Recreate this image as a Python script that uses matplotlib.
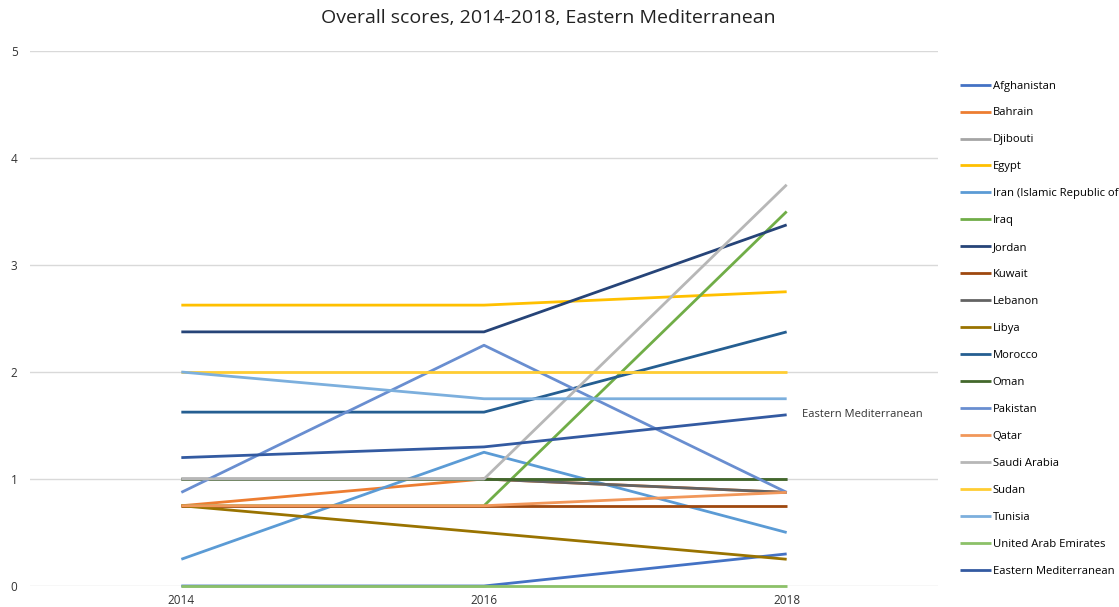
import matplotlib
matplotlib.use("Agg")
import matplotlib.pyplot as plt

plt.rcParams['font.family'] = ['Open Sans', 'DejaVu Sans']

years = ["2014", "2016", "2018"]
countries = ["Afghanistan", "Bahrain", "Djibouti", "Egypt", "Iran (Islamic Republic of",
             "Iraq", "Jordan", "Kuwait", "Lebanon", "Libya", "Morocco", "Oman",
             "Pakistan", "Qatar", "Saudi Arabia", "Sudan", "Tunisia",
             "United Arab Emirates", "Eastern Mediterranean"]
afghanistan = [0.0, 0.0, 0.3]
bahrain = [0.75, 1.0, 0.875]
djibouti = [1.0, 1.0, 1.0]
egypt = [2.625, 2.625, 2.75]
iran = [0.25, 1.25, 0.5]
iraq = [0.75, 0.75, 3.5]
jordan = [2.375, 2.375, 3.375]
kuwait = [0.75, 0.75, 0.75]
lebanon = [1.0, 1.0, 0.875]
libya = [0.75, 0.5, 0.25]
morocco = [1.625, 1.625, 2.375]
oman = [1.0, 1.0, 1.0]
pakistan = [0.875, 2.25, 0.875]
qatar = [0.75, 0.75, 0.875]
saudi = [1.0, 1.0, 3.75]
sudan = [2.0, 2.0, 2.0]
tunisia = [2.0, 1.75, 1.75]
uae = [0.0, 0.0, 0.0]
east_med = [1.2, 1.3, 1.6]
series = [afghanistan, bahrain, djibouti, egypt, iran, iraq, jordan, kuwait, lebanon,
          libya, morocco, oman, pakistan, qatar, saudi, sudan, tunisia, uae, east_med]
colors = ["#4472c4", "#ed7d31", "#a5a5a5", "#ffc000", "#5b9bd5", "#70ad47", "#264478",
          "#9e480e", "#636363", "#997300", "#255e91", "#43682b", "#698ed0", "#f1975a",
          "#b7b7b7", "#ffcd33", "#7cafdd", "#8cc168", "#335aa1"]

fig = plt.figure(figsize=(11.19, 6.07), dpi=100)
ax = fig.add_axes([30/1119, 21/607, 908/1119, 535/607])
x = list(range(len(years)))
for name, vals, c in zip(countries, series, colors):
    ax.plot(x, vals, color=c, lw=2.0, label=name, solid_capstyle='butt', clip_on=False)

ax.annotate("Eastern Mediterranean", xy=(x[-1], east_med[-1]), xytext=(11, 0),
            textcoords='offset points', va='center', ha='left', fontsize=8, color='#333333')

ax.set_xlim(-0.5, 2.5)
ax.set_ylim(0, 5)
ax.set_xticks(x)
ax.set_xticklabels(years)
ax.set_yticks([0, 1, 2, 3, 4, 5])
ax.grid(axis='y', color='#d9d9d9', lw=1)
ax.set_axisbelow(True)
for s in ax.spines.values():
    s.set_visible(False)
ax.tick_params(axis='both', length=0, labelsize=8.5, colors='#333333')
ax.tick_params(axis='y', pad=9)
ax.tick_params(axis='x', pad=6)

fig.text(0.49, 0.97, "Overall scores, 2014-2018, Eastern Mediterranean",
         ha='center', va='center', fontsize=14, color='#222222')

fig.legend(loc='upper left', bbox_to_anchor=(955/1119, 1 - 76/607), frameon=False,
           fontsize=8.1, handlelength=2.8, handletextpad=0.15, labelspacing=1.42,
           borderaxespad=0)

fig.savefig("out.png", dpi=100, facecolor='white')
